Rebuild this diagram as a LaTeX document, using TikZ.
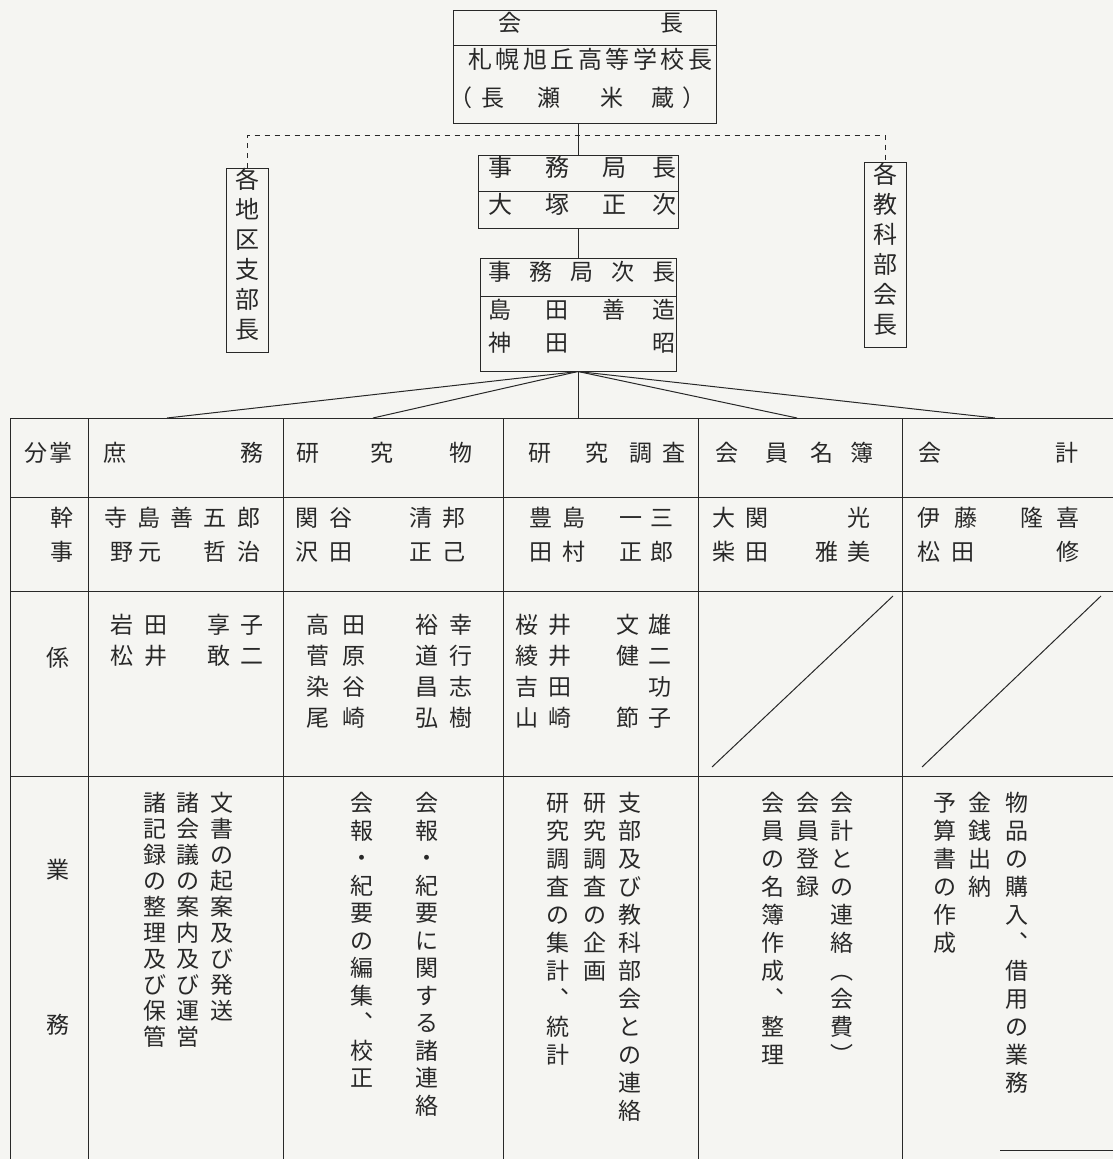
\documentclass[tikz,border=0pt]{standalone}
\usepackage{fontspec}
\usepackage{graphicx}
\newfontfamily\jp{Noto Sans CJK JP}
\definecolor{paper}{RGB}{245,245,242}
\definecolor{ink}{RGB}{40,40,40}
\newcounter{nc}
\newcommand\T[3][23]{\stepcounter{nc}\node[t,font=\jp\fontsize{#1pt}{#1pt}\selectfont] (n\arabic{nc}) at (#2) {#3};}
\newcommand\hrow[2]{\foreach \xx/\cc in {#2}{\T{\xx,#1}{\cc}}}
\newcommand\vcol[4]{\foreach \cc [count=\ii from 0] in {#4}{\T{#1,#2+\ii*#3}{\cc}}}
\tikzset{
  ln/.style={line width=1pt, draw=ink},
  dsh/.style={line width=1pt, draw=ink, dash pattern=on 5pt off 5pt},
  boxn/.style={ln, inner sep=0pt, fill=none},
  t/.style={inner sep=0pt, text height=0.88em, text depth=0.12em, text=ink}
}
\begin{document}
\begin{tikzpicture}[x=1pt,y=-1pt]
\fill[paper] (0,0) rectangle (1113,1159);
\useasboundingbox (0,0) rectangle (1113,1159);

% ---- boxes ----
\node[boxn, minimum width=263pt, minimum height=113pt] (pres) at (584.5,66.5) {};
\node[boxn, minimum width=200pt, minimum height=73pt] (sec) at (578,191.5) {};
\node[boxn, minimum width=196pt, minimum height=113pt] (vice) at (578,314.5) {};
\node[boxn, minimum width=42pt, minimum height=184pt] (left) at (247,260) {};
\node[boxn, minimum width=42pt, minimum height=185pt] (right) at (885,254.5) {};

% dividers inside boxes
\draw[ln] (453,45) -- (716,45);
\draw[ln] (478,191) -- (678,191);
\draw[ln] (480,296) -- (676,296);

% ---- connectors ----
\coordinate (dl) at (247,135);
\coordinate (dr) at (885,135);
\draw[ln] (pres.south -| sec.north) -- (sec.north);
\draw[ln] (sec.south) -- (vice.north);
\draw[dsh] (left.north) -- (dl) -- (dr) -- (right.north);
\coordinate (f1) at (167,418);
\coordinate (f2) at (373,418);
\coordinate (f3) at (578,418);
\coordinate (f4) at (797,418);
\coordinate (f5) at (995,418);
\foreach \f in {f1,f2,f3,f4,f5} \draw[ln] (vice.south) -- (\f);

% ---- box texts ----
\hrow{28}{510/会,672/長}
\T[24]{480,65}{札}\T[24]{507.5,65}{幌}\T[24]{535,65}{旭}\T[24]{562.5,65}{丘}\T[24]{590,65}{高}\T[24]{617.5,65}{等}\T[24]{645,65}{学}\T[24]{672.5,65}{校}\T[24]{700,65}{長}
\hrow{103}{461/（,493/長,549/瀬,612/米,663/蔵,694/）}
\T[24]{500,173}{事}\T[24]{557,173}{務}\T[24]{614,173}{局}\T[24]{664,173}{長}
\T[24]{500,210}{大}\T[24]{557,210}{塚}\T[24]{614,210}{正}\T[24]{664,210}{次}
\hrow{277}{500/事,541/務,582/局,623/次,664/長}
\hrow{315}{500/島,557/田,614/善,664/造}
\hrow{348}{500/神,557/田,664/昭}
\foreach \cc [count=\ii from 0] in {各,地,区,支,部,長}{\T[24]{247,185+\ii*30}{\cc}}
\foreach \cc [count=\ii from 0] in {各,教,科,部,会,長}{\T[24]{885,179.5+\ii*30}{\cc}}

% ---- table grid ----
\draw[ln] (10,418) -- (1113,418);
\draw[ln] (10,497) -- (1113,497);
\draw[ln] (10,591) -- (1113,591);
\draw[ln] (10,776) -- (1113,776);
\foreach \x in {10,88,283,503,698,902} \draw[ln] (\x,418) -- (\x,1159);
\draw[ln] (1000,1150) -- (1113,1150);
\draw[ln] (712,767) -- (893,596);
\draw[ln] (922,767) -- (1101,596);

% ---- row 1 ----
\hrow{458}{36/分,61/掌,115/庶,252/務,308/研,382/究,461/物,540/研,597/究,641/調,674/査,727/会,777/員,822/名,862/簿,930/会,1067/計}
% ---- row 2 ----
\T{62,523}{幹}\T{62,557}{事}
\hrow{523}{116/寺,149/島,182/善,215/五,249/郎,307/関,341/谷,421/清,454/邦,541/豊,574/島,631/一,662/三,724/大,757/関,859/光,929/伊,966/藤,1032/隆,1068/喜}
\hrow{557}{122/野,150/元,215/哲,249/治,307/沢,341/田,421/正,454/己,541/田,574/村,631/正,662/郎,724/柴,757/田,827/雅,859/美,929/松,963/田,1068/修}
% ---- row 3 ----
\T{58,663}{係}
\hrow{630}{122/岩,156/田,219/享,252/子,318/高,354/田,427/裕,461/幸,527/桜,560/井,628/文,660/雄}
\hrow{661}{122/松,156/井,219/敢,252/二,318/菅,354/原,427/道,461/行,527/綾,560/井,628/健,660/二}
\hrow{692}{318/染,354/谷,427/昌,461/志,527/吉,560/田,660/功}
\hrow{723}{318/尾,354/崎,427/弘,461/樹,527/山,560/崎,628/節,660/子}
% ---- row 4 ----
\T{58,875}{業}\T{58,1030}{務}
\vcol{222}{808}{26}{文,書,の,起,案,及,び,発,送}
\vcol{188}{808}{26}{諸,会,議,の,案,内,及,び,運,営}
\vcol{155}{808}{26}{諸,記,録,の,整,理,及,び,保,管}
\vcol{427}{808}{27.5}{会,報,・,紀,要,に,関,す,る,諸,連,絡}
\vcol{362}{808}{27.5}{会,報,・,紀,要,の,編,集,︑,校,正}
\vcol{630}{808}{28}{支,部,及,び,教,科,部,会,と,の,連,絡}
\vcol{595}{808}{28}{研,究,調,査,の,企,画}
\vcol{558}{808}{28}{研,究,調,査,の,集,計,︑,統,計}
\vcol{842}{808}{28}{会,計,と,の,連,絡,︵,会,費,︶}
\vcol{808}{808}{28}{会,員,登,録}
\vcol{773}{808}{28}{会,員,の,名,簿,作,成,︑,整,理}
\vcol{1017}{808}{28}{物,品,の,購,入,︑,借,用,の,業,務}
\vcol{980}{808}{28}{金,銭,出,納}
\vcol{945}{808}{28}{予,算,書,の,作,成}
\end{tikzpicture}
\end{document}
